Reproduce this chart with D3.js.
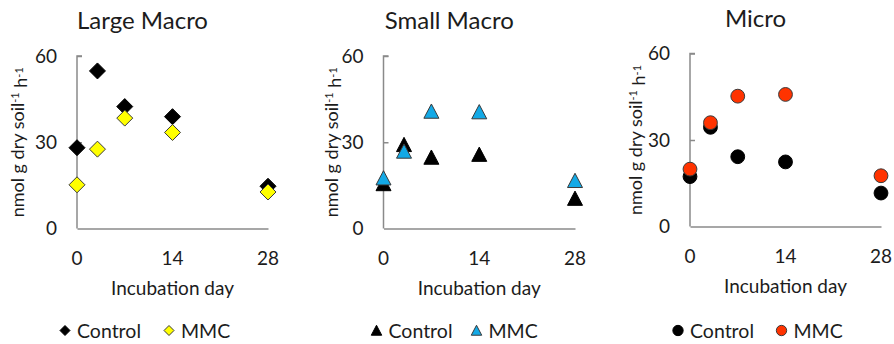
<!DOCTYPE html>
<html>
<head>
<meta charset="utf-8">
<script src="https://cdn.jsdelivr.net/npm/d3@7"></script>
<style>
  body { margin: 0; background: #fff; }
  svg { display: block; }
  text { font-family: Lato, "Open Sans", sans-serif; fill: #1c1c1c; }
</style>
</head>
<body>
<svg id="chart" width="894" height="344"></svg>
<script>
// Incubation days sampled
const days = [0, 3, 7, 14, 28];
const xTicks = [0, 14, 28];
const yTicks = [0, 30, 60];
const seriesNames = ["Control", "MMC"];
const panelTitles = ["Large Macro", "Small Macro", "Micro"];
const xAxisTitle = "Incubation day";

// Activity, nmol g dry soil-1 h-1
const largeControl = [28.1, 54.8, 42.4, 38.9, 14.7];
const largeMMC     = [15.2, 27.6, 38.4, 33.4, 12.7];
const smallControl = [15.5, 29.1, 24.7, 25.7, 10.4];
const smallMMC     = [17.5, 26.8, 40.7, 40.5, 16.6];
const microControl = [17.3, 34.4, 24.2, 22.4, 11.6];
const microMMC     = [19.9, 36.0, 45.2, 45.8, 17.6];

// Marker shapes
const diamond = {
  draw(ctx, size) {
    const r = Math.sqrt(size) / 2;
    ctx.moveTo(0, -r); ctx.lineTo(r, 0); ctx.lineTo(0, r); ctx.lineTo(-r, 0); ctx.closePath();
  }
};
const triangle = {
  draw(ctx, size) {
    const r = Math.sqrt(size) / 2;
    ctx.moveTo(0, -r); ctx.lineTo(r, r * 0.9); ctx.lineTo(-r, r * 0.9); ctx.closePath();
  }
};

const panels = [
  { title: panelTitles[0], control: largeControl, mmc: largeMMC, type: diamond,
    size: 256, legendSize: 100, mmcFill: "#ffff00",
    x0: 77, x1: 268, yTop: 56, yBot: 228.5, yLabelX: 18, legendX: [65, 169] },
  { title: panelTitles[1], control: smallControl, mmc: smallMMC, type: triangle,
    size: 225, legendSize: 110, mmcFill: "#13a9e6",
    x0: 383.5, x1: 575, yTop: 56, yBot: 228.5, yLabelX: 332, legendX: [376.5, 476.5] },
  { title: panelTitles[2], control: microControl, mmc: microMMC, type: d3.symbolCircle,
    size: 150, legendSize: 84, mmcFill: "#ff3300",
    x0: 690, x1: 881, yTop: 53.5, yBot: 226.5, yLabelX: 636, legendX: [678, 781.5] }
];

const svg = d3.select("#chart");
const axisColor = "#8a8a8a";

panels.forEach(p => {
  const x = d3.scaleLinear().domain([0, 28]).range([p.x0, p.x1]);
  const y = d3.scaleLinear().domain([0, 60]).range([p.yBot, p.yTop]);
  const g = svg.append("g");

  // Title
  g.append("text")
    .attr("x", (p.x0 + p.x1) / 2 - 30)
    .attr("y", p.yTop - 27)
    .attr("text-anchor", "middle")
    .style("font-size", "24px")
    .text(p.title);

  // Y axis: line with inward ticks, labels to the left
  const yAxis = g.append("g").attr("transform", `translate(${p.x0},0)`)
    .call(d3.axisRight(y).tickValues(yTicks).tickSize(5).tickFormat(""));
  yAxis.select(".domain").attr("d", `M5,${p.yTop}H0V${p.yBot}`);
  yAxis.selectAll("line").filter(d => d === 0).remove();
  yAxis.selectAll(".domain, line").attr("stroke", axisColor).attr("stroke-width", 1.5);

  g.selectAll(".ytl").data(yTicks).join("text")
    .attr("x", p.x0 - 20)
    .attr("y", d => y(d))
    .attr("dy", "0.36em")
    .attr("text-anchor", "end")
    .style("font-size", "19px")
    .text(d => d);

  // X axis: line only, labels below
  const xAxis = g.append("g").attr("transform", `translate(0,${p.yBot})`)
    .call(d3.axisBottom(x).tickValues(xTicks).tickSize(0).tickFormat(""));
  xAxis.select(".domain").attr("stroke", axisColor).attr("stroke-width", 1.5);

  g.selectAll(".xtl").data(xTicks).join("text")
    .attr("x", d => x(d))
    .attr("y", p.yBot + 36)
    .attr("text-anchor", "middle")
    .style("font-size", "19px")
    .text(d => d);

  g.append("text")
    .attr("x", (p.x0 + p.x1) / 2)
    .attr("y", p.yBot + 66)
    .attr("text-anchor", "middle")
    .style("font-size", "19px")
    .text(xAxisTitle);

  // Y axis title with superscripts
  const yl = g.append("text")
    .attr("transform", `translate(${p.yLabelX},${(p.yTop + p.yBot) / 2}) rotate(-90)`)
    .attr("text-anchor", "middle")
    .attr("dy", "0.35em")
    .style("font-size", "18px");
  yl.append("tspan").text("nmol g dry soil");
  yl.append("tspan").attr("dy", "-0.45em").style("font-size", "11px").text("-1");
  yl.append("tspan").attr("dy", "0.45em").text(" h");
  yl.append("tspan").attr("dy", "-0.45em").style("font-size", "11px").text("-1");

  // Markers: control first, MMC drawn over it
  const sym = d3.symbol().type(p.type).size(p.size);
  g.selectAll(".ctl").data(days.map((d, i) => [d, p.control[i]])).join("path")
    .attr("d", sym)
    .attr("transform", d => `translate(${x(d[0])},${y(d[1])})`)
    .attr("fill", "#000").attr("stroke", "#000").attr("stroke-width", 1);
  g.selectAll(".mmc").data(days.map((d, i) => [d, p.mmc[i]])).join("path")
    .attr("d", sym)
    .attr("transform", d => `translate(${x(d[0])},${y(d[1])})`)
    .attr("fill", p.mmcFill).attr("stroke", "#3a3a3a").attr("stroke-width", 1);

  // Legend
  const lsym = d3.symbol().type(p.type).size(p.legendSize);
  const fills = ["#000", p.mmcFill];
  const strokes = ["#000", "#3a3a3a"];
  seriesNames.forEach((name, i) => {
    g.append("path")
      .attr("d", lsym)
      .attr("transform", `translate(${p.legendX[i]},330.5)`)
      .attr("fill", fills[i]).attr("stroke", strokes[i]).attr("stroke-width", 1);
    g.append("text")
      .attr("x", p.legendX[i] + 12)
      .attr("y", 337.5)
      .style("font-size", "19.5px")
      .text(name);
  });
});
</script>
</body>
</html>
